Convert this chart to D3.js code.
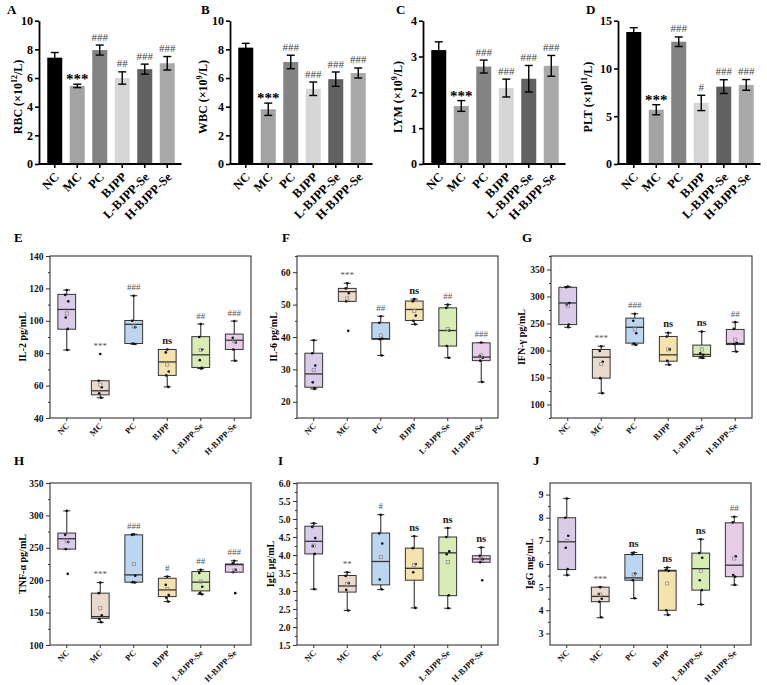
<!DOCTYPE html>
<html>
<head>
<meta charset="utf-8">
<script src="https://cdn.jsdelivr.net/npm/d3@7"></script>
<style>
  body { margin: 0; background: #fff; }
</style>
</head>
<body>
<div id="chart"></div>
<script>
const groups = ["NC", "MC", "PC", "BJPP", "L-BJPP-Se", "H-BJPP-Se"];

// ---- blood routine (bar charts, mean ± SEM) ----
const rbcMean = [7.42, 5.45, 7.95, 6.0, 6.62, 7.03];
const rbcErr  = [0.36, 0.12, 0.35, 0.43, 0.35, 0.47];
const rbcSig  = ["", "***", "###", "##", "###", "###"];

const wbcMean = [8.12, 3.82, 7.12, 5.25, 5.92, 6.35];
const wbcErr  = [0.30, 0.43, 0.47, 0.47, 0.50, 0.35];
const wbcSig  = ["", "***", "###", "###", "###", "###"];

const lymMean = [3.18, 1.62, 2.72, 2.12, 2.38, 2.74];
const lymErr  = [0.23, 0.15, 0.18, 0.25, 0.37, 0.29];
const lymSig  = ["", "***", "###", "###", "###", "###"];

const pltMean = [13.82, 5.68, 12.8, 6.39, 8.1, 8.28];
const pltErr  = [0.45, 0.53, 0.50, 0.80, 0.72, 0.56];
const pltSig  = ["", "***", "###", "#", "###", "###"];

// ---- cytokines / immunoglobulins (box plots) ----
// box = [whisker low, Q1, median, Q3, whisker high]
const il2Box  = [[82, 94.8, 107, 116.3, 119], [52.5, 54.3, 56.8, 63, 63], [85.6, 86, 97.8, 100.2, 115.5],
                 [59.2, 66.3, 74.6, 82.3, 82.3], [70.5, 71.2, 79, 90.2, 98], [75.3, 82.3, 88, 91.8, 99.8]];
const il2Mean = [104.5, 60.5, 96.5, 73, 82, 87.5];
const il2Pts  = [[119, 116, 112, 102, 95, 82], [79.5, 63, 59, 55.3, 52.5], [115.5, 100, 96, 86, 85.7],
                 [82.3, 80.5, 68.7, 66.3, 59.2], [98, 90, 82.3, 75.7, 71, 70.5], [99.8, 89.5, 86.6, 82.3, 75.3]];
const il2Sig  = ["", "***", "###", "ns", "##", "###"];

const il6Box  = [[24, 24.5, 28.6, 35, 39], [51, 51, 54, 55, 56.6], [34.3, 39.3, 39.5, 44.4, 46.4],
                 [43.9, 45.1, 48.5, 51.1, 51.7], [33.6, 37.2, 42, 49, 50], [26.1, 32.7, 33.8, 38.2, 38.3]];
const il6Mean = [29.8, 51.9, 40.5, 48, 42.5, 34.3];
const il6Pts  = [[39, 35, 31.2, 26, 24.2, 24], [56.6, 55, 53.5, 51, 41.9], [46.4, 44.4, 39.5, 39.3, 34.3],
                 [51.7, 51, 46.6, 45, 43.9], [50, 49, 42, 37.2, 33.6], [38.3, 34.1, 33.6, 32.7, 26.1]];
const il6Sig  = ["", "***", "##", "ns", "##", "###"];

const ifnBox  = [[243, 248, 288, 317, 318.5], [121, 148.8, 187.6, 201.9, 208], [210.5, 213.6, 243, 260, 268],
                 [173.5, 180.2, 192, 226, 232.7], [185.8, 189, 192.6, 210, 235], [198, 211, 213, 239, 252.5]];
const ifnMean = [283, 175, 239, 202, 202, 220];
const ifnPts  = [[318.5, 317, 288, 285, 248, 243], [208, 199, 179, 148.8, 121], [268, 255, 232, 213, 210.5],
                 [232.7, 226, 202, 181, 173.5], [235, 195, 192, 188, 186], [252.5, 240, 214, 212, 198]];
const ifnSig  = ["", "***", "###", "ns", "ns", "##"];

const tnfBox  = [[248, 248, 264, 272.7, 307], [135, 141.2, 143.8, 180, 196.4], [196.4, 197, 208.2, 270, 271],
                 [167, 174.7, 185, 203, 205.7], [178.4, 183.5, 197, 213.4, 216], [212.4, 212.4, 224, 225, 229.9]];
const tnfMean = [261, 156.7, 225, 186.6, 198, 215];
const tnfPts  = [[307, 270, 259, 248, 209.8], [196.4, 180, 146, 140, 135], [271, 270, 207, 197, 196.4],
                 [205.7, 192.8, 177, 173, 167], [216, 211, 190, 180, 178.4], [229.9, 226, 216, 212.4, 180]];
const tnfSig  = ["", "***", "###", "#", "##", "###"];

const igeBox  = [[3.05, 4.03, 4.38, 4.8, 4.88], [2.46, 2.97, 3.14, 3.43, 3.52], [3.04, 3.17, 3.82, 4.61, 5.12],
                 [2.53, 3.3, 3.63, 4.19, 4.52], [2.52, 2.87, 4.06, 4.5, 4.75], [3.8, 3.8, 3.89, 3.98, 4.21]];
const igeMean = [4.26, 3.19, 3.94, 3.72, 3.8, 3.89];
const igePts  = [[4.88, 4.78, 4.47, 4.25, 4.03, 3.05], [3.52, 3.42, 3.22, 3.03, 2.46], [5.12, 4.6, 4.32, 3.32, 3.05],
                 [4.52, 4.19, 3.75, 3.52, 2.53], [4.75, 4.5, 4.1, 4.02, 2.88, 2.52], [4.21, 3.98, 3.88, 3.8, 3.3]];
const igeSig  = ["", "**", "#", "ns", "ns", "ns"];

const iggBox  = [[5.52, 5.76, 6.96, 8.0, 8.83], [3.68, 4.37, 4.6, 5.0, 5.0], [4.51, 5.3, 5.4, 6.41, 6.5],
                 [3.8, 4.0, 5.7, 5.73, 5.85], [4.25, 4.87, 5.8, 6.47, 7.07], [5.09, 5.45, 5.95, 7.78, 8.04]];
const iggMean = [7.0, 4.68, 5.55, 5.16, 5.7, 6.24];
const iggPts  = [[8.83, 8.0, 7.22, 6.7, 5.78, 5.52], [5.0, 4.7, 4.5, 4.37, 3.7], [6.5, 6.42, 5.59, 5.3, 4.52],
                 [5.85, 5.75, 5.7, 4.0, 3.8], [7.07, 6.47, 6.27, 5.3, 4.87, 4.25], [8.04, 7.8, 6.33, 5.52, 5.45, 5.1]];
const iggSig  = ["", "***", "ns", "ns", "ns", "##"];

const barColors = ["#000000", "#a3a3a3", "#838383", "#d6d6d6", "#616161", "#a9a9a9"];
const boxColors = ["#dacbe8", "#ead9cd", "#bdd6ef", "#f5e3ae", "#d9ecb6", "#e7cce8"];

const svg = d3.select("#chart").append("svg")
  .attr("width", 767)
  .attr("height", 685)
  .style("font-family", "'Liberation Serif', 'Times New Roman', serif");

function panelLetter(t, x, y) {
  svg.append("text").attr("x", x).attr("y", y)
    .attr("font-size", 13).attr("font-weight", "bold").text(t);
}

function drawBars(cfg) {
  const g = svg.append("g");
  const x = d3.scaleBand().domain(groups)
    .range([cfg.left + 4.5, cfg.left + 139.5])
    .paddingInner(1 / 3).paddingOuter(1 / 6);
  const y = d3.scaleLinear().domain([0, cfg.max]).range([164, 20.7]);

  const yAxis = g.append("g")
    .attr("transform", `translate(${cfg.left},0)`)
    .call(d3.axisLeft(y).tickValues(cfg.ticks).tickFormat(d3.format("d"))
      .tickSize(4).tickSizeOuter(0).tickPadding(2));
  yAxis.select(".domain").attr("stroke-width", 1.8);
  yAxis.selectAll(".tick line").attr("stroke-width", 1.6);
  yAxis.selectAll("text").attr("font-size", 12).attr("font-weight", "bold")
    .attr("font-family", "'Liberation Serif', serif").attr("fill", "#000");

  const xAxis = g.append("g")
    .attr("transform", `translate(0,${y(0)})`)
    .call(d3.axisBottom(x).tickSize(4).tickSizeOuter(0));
  xAxis.select(".domain").remove();
  xAxis.selectAll(".tick line").attr("stroke-width", 1.6);
  xAxis.selectAll("text")
    .attr("font-size", 12.5).attr("font-weight", "bold")
    .attr("font-family", "'Liberation Serif', serif").attr("fill", "#000")
    .attr("x", -6).attr("y", 9).attr("dy", "0.35em")
    .attr("transform", "rotate(-45)")
    .style("text-anchor", "end");
  g.append("line")
    .attr("x1", cfg.left - 0.9).attr("x2", x.range()[1] + 3)
    .attr("y1", y(0)).attr("y2", y(0))
    .attr("stroke", "#000").attr("stroke-width", 1.8);

  g.selectAll("rect.bar").data(groups).join("rect")
    .attr("class", "bar")
    .attr("x", d => x(d))
    .attr("width", x.bandwidth())
    .attr("y", (d, i) => y(cfg.mean[i]))
    .attr("height", (d, i) => y(0) - y(cfg.mean[i]) - 0.9)
    .attr("fill", (d, i) => barColors[i]);

  const eb = g.selectAll("g.err").data(groups).join("g")
    .attr("transform", d => `translate(${x(d) + x.bandwidth() / 2},0)`);
  eb.append("line")
    .attr("y1", (d, i) => y(cfg.mean[i] - cfg.err[i]))
    .attr("y2", (d, i) => y(cfg.mean[i] + cfg.err[i]))
    .attr("stroke", "#000").attr("stroke-width", 1.4);
  [-1, 1].forEach(s => {
    eb.append("line")
      .attr("x1", -4).attr("x2", 4)
      .attr("y1", (d, i) => y(cfg.mean[i] + s * cfg.err[i]))
      .attr("y2", (d, i) => y(cfg.mean[i] + s * cfg.err[i]))
      .attr("stroke", "#000").attr("stroke-width", 1.4);
  });

  eb.append("text")
    .attr("text-anchor", "middle")
    .attr("y", (d, i) => y(cfg.mean[i] + cfg.err[i]) - (cfg.sig[i].startsWith("*") ? 0 : 4.5))
    .attr("font-size", (d, i) => cfg.sig[i].startsWith("*") ? 15 : 11)
    .attr("font-weight", (d, i) => cfg.sig[i].startsWith("*") ? "bold" : "normal")
    .attr("fill", (d, i) => cfg.sig[i].startsWith("*") ? "#000" : "#444")
    .text((d, i) => cfg.sig[i]);

  const lab = g.append("text")
    .attr("transform", `translate(${cfg.labelX},97) rotate(-90)`)
    .attr("text-anchor", "middle")
    .attr("font-size", 12).attr("font-weight", "bold");
  lab.append("tspan").text(cfg.label[0]);
  lab.append("tspan").attr("font-size", 8).attr("dy", -5).text(cfg.label[1]);
  lab.append("tspan").attr("dy", 5).text(cfg.label[2]);
}

function drawBox(cfg) {
  const g = svg.append("g");
  const x = d3.scaleBand().domain(groups).range([cfg.left, cfg.left + 201]);
  const y = d3.scaleLinear().domain(cfg.domain).range([cfg.top + 162, cfg.top]);
  const bw = x.bandwidth() * 0.53;
  const cx = d => x(d) + x.bandwidth() / 2;

  const yAxis = g.append("g")
    .attr("transform", `translate(${cfg.left},0)`)
    .call(d3.axisLeft(y).tickValues(cfg.ticks).tickSize(4).tickPadding(2.5).tickFormat(d3.format(cfg.fmt)));
  yAxis.select(".domain").remove();
  yAxis.selectAll("text").attr("font-size", 9.5).attr("font-weight", "bold")
    .attr("font-family", "'Liberation Serif', serif").attr("fill", "#111");
  yAxis.selectAll(".tick line").attr("stroke", "#333");
  const yMinor = g.append("g")
    .attr("transform", `translate(${cfg.left},0)`)
    .call(d3.axisLeft(y).tickValues(cfg.minor).tickSize(2).tickFormat(""));
  yMinor.select(".domain").remove();
  yMinor.selectAll(".tick line").attr("stroke", "#333");

  const xAxis = g.append("g")
    .attr("transform", `translate(0,${y.range()[0]})`)
    .call(d3.axisBottom(x).tickSize(3).tickSizeOuter(0));
  xAxis.select(".domain").remove();
  xAxis.selectAll(".tick line").attr("stroke", "#333");
  xAxis.selectAll("text")
    .attr("font-size", 8.5).attr("font-weight", "bold")
    .attr("font-family", "'Liberation Serif', serif").attr("fill", "#111")
    .attr("x", -4).attr("y", 5).attr("dy", "0.35em")
    .attr("transform", "rotate(-45)")
    .style("text-anchor", "end");

  g.append("rect")
    .attr("x", x.range()[0]).attr("y", y.range()[1])
    .attr("width", x.range()[1] - x.range()[0])
    .attr("height", y.range()[0] - y.range()[1])
    .attr("fill", "none").attr("stroke", "#333").attr("stroke-width", 1.1);

  const bx = g.selectAll("g.bx").data(groups).join("g")
    .attr("transform", d => `translate(${cx(d)},0)`);
  bx.append("line")
    .attr("y1", (d, i) => y(cfg.box[i][0])).attr("y2", (d, i) => y(cfg.box[i][4]))
    .attr("stroke", "#333").attr("stroke-width", 1.1);
  [0, 4].forEach(k => {
    bx.append("line")
      .attr("x1", -3.5).attr("x2", 3.5)
      .attr("y1", (d, i) => y(cfg.box[i][k])).attr("y2", (d, i) => y(cfg.box[i][k]))
      .attr("stroke", "#333").attr("stroke-width", 1.1);
  });
  bx.append("rect")
    .attr("x", -bw / 2).attr("width", bw)
    .attr("y", (d, i) => y(cfg.box[i][3]))
    .attr("height", (d, i) => y(cfg.box[i][1]) - y(cfg.box[i][3]))
    .attr("fill", (d, i) => boxColors[i])
    .attr("stroke", "#333").attr("stroke-width", 1);
  bx.append("line")
    .attr("x1", -bw / 2).attr("x2", bw / 2)
    .attr("y1", (d, i) => y(cfg.box[i][2])).attr("y2", (d, i) => y(cfg.box[i][2]))
    .attr("stroke", "#333").attr("stroke-width", 1.3);

  const jitter = [0, -1.5, 1.5, -1, 1, 0.5];
  bx.each(function (d, i) {
    d3.select(this).selectAll("circle").data(cfg.pts[i]).join("circle")
      .attr("cx", (v, j) => jitter[j])
      .attr("cy", v => y(v))
      .attr("r", 1.3)
      .attr("fill", "#111");
  });
  bx.append("rect")
    .attr("x", -1.6).attr("width", 3.2).attr("height", 3.2)
    .attr("y", (d, i) => y(cfg.mean[i]) - 1.6)
    .attr("fill", "none").attr("stroke", "#888").attr("stroke-width", 0.7);

  bx.append("text")
    .attr("text-anchor", "middle")
    .attr("y", (d, i) => y(Math.max(cfg.box[i][4], d3.max(cfg.pts[i]))) - 5.5)
    .attr("font-size", (d, i) => cfg.sig[i] === "ns" ? 10.5 : 9)
    .attr("font-weight", (d, i) => cfg.sig[i] === "ns" ? "bold" : "normal")
    .attr("fill", (d, i) => cfg.sig[i] === "ns" ? "#222" : "#555")
    .text((d, i) => cfg.sig[i]);

  g.append("text")
    .attr("transform", `translate(${cfg.labelX},${(y.range()[0] + y.range()[1]) / 2}) rotate(-90)`)
    .attr("text-anchor", "middle").attr("dy", "0.35em")
    .attr("font-size", 10).attr("font-weight", "bold")
    .text(cfg.label);
}

// top row
drawBars({ left: 39, max: 10, ticks: [0, 2, 4, 6, 8, 10], mean: rbcMean, err: rbcErr, sig: rbcSig,
  labelX: 22, label: ["RBC (×10", "12", "/L)"] });
drawBars({ left: 230, max: 10, ticks: [0, 2, 4, 6, 8, 10], mean: wbcMean, err: wbcErr, sig: wbcSig,
  labelX: 207, label: ["WBC (×10", "9", "/L)"] });
drawBars({ left: 423, max: 4, ticks: [0, 1, 2, 3, 4], mean: lymMean, err: lymErr, sig: lymSig,
  labelX: 402, label: ["LYM (×10", "9", "/L)"] });
drawBars({ left: 618, max: 15, ticks: [0, 5, 10, 15], mean: pltMean, err: pltErr, sig: pltSig,
  labelX: 592, label: ["PLT (×10", "11", "/L)"] });
panelLetter("A", 7, 14);
panelLetter("B", 201, 14);
panelLetter("C", 396, 14);
panelLetter("D", 586, 14);

// middle row
drawBox({ left: 50, top: 256, domain: [40, 140], ticks: d3.range(40, 141, 20), minor: d3.range(50, 140, 20), fmt: "d",
  box: il2Box, mean: il2Mean, pts: il2Pts, sig: il2Sig, labelX: 22, label: "IL-2 pg/mL" });
drawBox({ left: 297, top: 256, domain: [15, 65], ticks: d3.range(20, 61, 10), minor: d3.range(15, 66, 10), fmt: "d",
  box: il6Box, mean: il6Mean, pts: il6Pts, sig: il6Sig, labelX: 273, label: "IL-6 pg/mL" });
drawBox({ left: 551, top: 256, domain: [75, 375], ticks: d3.range(100, 351, 50), minor: d3.range(75, 376, 50), fmt: "d",
  box: ifnBox, mean: ifnMean, pts: ifnPts, sig: ifnSig, labelX: 521, label: "IFN-γ pg/mL" });
panelLetter("E", 14, 242);
panelLetter("F", 282, 242);
panelLetter("G", 522, 242);

// bottom row
drawBox({ left: 50, top: 483, domain: [100, 350], ticks: d3.range(100, 351, 50), minor: d3.range(125, 350, 50), fmt: "d",
  box: tnfBox, mean: tnfMean, pts: tnfPts, sig: tnfSig, labelX: 22, label: "TNF-α pg/mL" });
drawBox({ left: 297, top: 483, domain: [1.5, 6.0], ticks: d3.range(1.5, 6.01, 0.5), minor: d3.range(1.75, 6, 0.5), fmt: ".1f",
  box: igeBox, mean: igeMean, pts: igePts, sig: igeSig, labelX: 270, label: "IgE μg/mL" });
drawBox({ left: 550, top: 483, domain: [2.5, 9.5], ticks: d3.range(3, 9.01, 1), minor: d3.range(3.5, 9.5, 1), fmt: "d",
  box: iggBox, mean: iggMean, pts: iggPts, sig: iggSig, labelX: 529, label: "IgG mg/mL" });
panelLetter("H", 14, 465);
panelLetter("I", 278, 465);
panelLetter("J", 533, 465);
</script>
</body>
</html>
